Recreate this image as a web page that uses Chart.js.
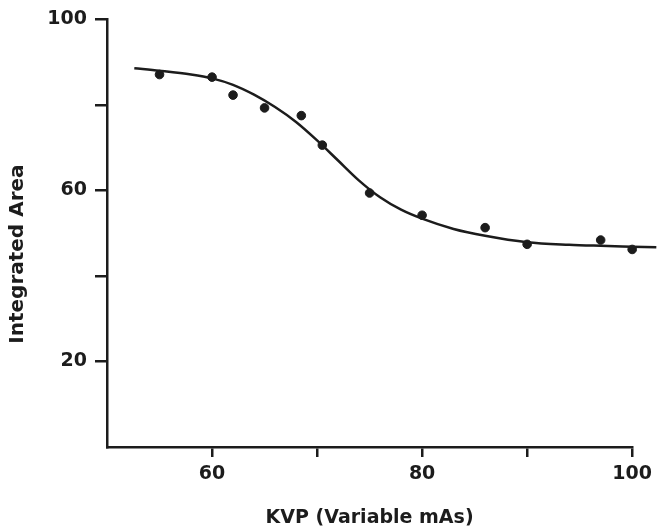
<!DOCTYPE html>
<html>
<head>
<meta charset="utf-8">
<script src="https://cdn.jsdelivr.net/npm/chart.js@4"></script>
<style>
  html, body { margin: 0; padding: 0; background: #fff; }
  #wrap { width: 658px; height: 531px; }
</style>
</head>
<body>
<div id="wrap"><canvas id="myChart" width="658" height="531"></canvas></div>
<script>
// measured points (KVP, integrated area)
const kvp = [55, 60, 62, 65, 68.5, 70.5, 75, 80, 86, 90, 97, 100];
const area = [87.1, 86.5, 82.3, 79.3, 77.5, 70.6, 59.4, 54.2, 51.3, 47.4, 48.4, 46.2];

// fitted curve (runs a bit past 100 on the right)
const fitKvp = [52.6, 55, 58, 60, 62, 64, 66, 68, 70, 72, 74, 76, 78, 80, 83, 86, 90, 94, 97, 100, 102.3];
const fitArea = [88.6, 88.0, 87.1, 86.2, 84.7, 82.4, 79.5, 76.0, 71.7, 67.0, 62.3, 58.4, 55.5, 53.4, 51.0, 49.4, 47.9, 47.3, 47.05, 46.85, 46.7];

const xTickLabels = [60, 80, 100];
const yTickLabels = [100, 60, 20];

const ink = "#1c1c1c";
const font = { family: "DejaVu Sans", weight: "bold" };

window.onload = () => {
  const data = {
    datasets: [
      {
        type: "line",
        label: "fit",
        data: fitKvp.map((x, i) => ({ x: x, y: fitArea[i] })),
        borderColor: ink,
        borderWidth: 2.5,
        pointRadius: 0,
        cubicInterpolationMode: "monotone",
        clip: false,
      },
      {
        type: "scatter",
        label: "measured",
        data: kvp.map((x, i) => ({ x: x, y: area[i] })),
        backgroundColor: ink,
        borderColor: ink,
        pointRadius: 4.3,
      },
    ],
  };

  const config = {
    type: "scatter",
    data: data,
    options: {
      responsive: false,
      animation: false,
      layout: { padding: { top: 16, right: 24, left: 0, bottom: 0 } },
      plugins: {
        legend: { display: false },
        tooltip: { enabled: false },
      },
      scales: {
        x: {
          type: "linear",
          // set limits here (not min/max) so the curve past 100 is still drawn
          afterDataLimits: (s) => { s.min = 50; s.max = 100; },
          afterFit: (s) => { s.height = 84; },
          border: { display: true, color: ink, width: 2.5 },
          grid: {
            drawOnChartArea: false,
            drawTicks: true,
            tickLength: 10,
            lineWidth: 2.5,
            color: (c) => (c.tick && c.tick.value === 50 ? "rgba(0,0,0,0)" : ink),
          },
          ticks: {
            stepSize: 10,
            padding: 6,
            color: ink,
            maxRotation: 0,
            font: { ...font, size: 19 },
            callback: (v) => (xTickLabels.includes(v) ? String(v) : ""),
          },
          title: {
            display: true,
            text: "KVP (Variable mAs)",
            color: ink,
            font: { ...font, size: 19 },
            padding: { top: 0, bottom: 2 },
          },
        },
        y: {
          type: "linear",
          min: 0,
          max: 100,
          afterFit: (s) => { s.width = 107; },
          border: { display: true, color: ink, width: 2.5 },
          grid: {
            drawOnChartArea: false,
            drawTicks: true,
            tickLength: 12,
            lineWidth: 2.5,
            color: (c) => (c.tick && c.tick.value === 0 ? "rgba(0,0,0,0)" : ink),
          },
          ticks: {
            stepSize: 20,
            padding: 8,
            color: ink,
            font: { ...font, size: 19 },
            callback: (v) => (yTickLabels.includes(v) ? String(v) : ""),
          },
          title: {
            display: true,
            text: "Integrated Area      ",
            color: ink,
            font: { ...font, size: 20 },
            padding: { top: 6, bottom: 0 },
          },
        },
      },
    },
  };

  var myChart = new Chart(document.getElementById("myChart"), config);
};
</script>
</body>
</html>
